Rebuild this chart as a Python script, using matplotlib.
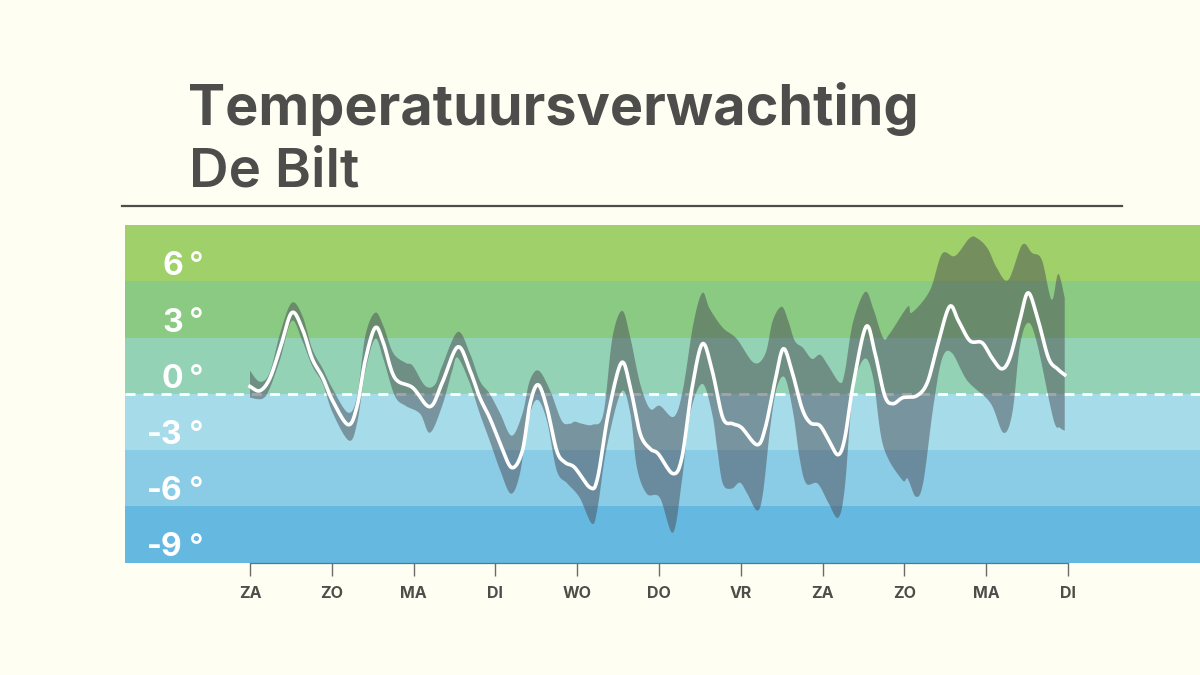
import numpy as np
import matplotlib
matplotlib.use("Agg")
import matplotlib.pyplot as plt

day_labels = ["ZA", "ZO", "MA", "DI", "WO", "DO", "VR", "ZA", "ZO", "MA", "DI"]
band_edges = [9, 6, 3, 0, -3, -6, -9]
band_colors = ["#a0d069", "#8bca82", "#94d2b6", "#a6dcea", "#8acbe6", "#65b8e0"]
temp_labels = [6, 3, 0, -3, -6, -9]

mean_days = [0,.12,.24,.37,.51,.64,.76,.89,1.01,1.20,1.31,1.41,1.53,1.63,1.77,1.99,2.20,2.35,2.54,2.69,2.81,2.93,3.06,3.20,3.33,3.42,3.52,3.63,3.75,3.85,3.97,4.16,4.25,4.38,4.54,4.65,4.77,4.89,4.99,5.17,5.28,5.40,5.53,5.65,5.78,5.90,6.01,6.20,6.30,6.42,6.52,6.63,6.75,6.85,6.97,7.09,7.19,7.27,7.37,7.53,7.64,7.76,7.86,7.98,8.15,8.28,8.40,8.55,8.66,8.80,8.95,9.07,9.19,9.29,9.41,9.51,9.62,9.76,9.87,9.96]
mean_vals = [.39,.16,.80,2.45,4.32,3.46,1.87,.85,-.37,-1.65,-.64,1.8,3.52,2.72,.85,.32,-.69,.59,2.50,1.23,-.21,-1.28,-2.66,-3.94,-3.04,-.6,.48,-.75,-3.04,-3.66,-3.94,-5.01,-4.48,-1.07,1.65,.32,-2.13,-2.93,-3.20,-4.26,-3.41,.2,2.66,1.23,-1.28,-1.60,-1.81,-2.72,-1.81,.7,2.40,1.12,-.80,-1.55,-1.71,-2.61,-3.25,-2.40,.4,3.57,2.18,-.11,-.53,-.21,-.11,.59,2.5,4.64,3.90,2.83,2.72,1.92,1.33,1.92,3.9,5.38,4.16,1.92,1.33,1.01]

upper_days = [0,.12,.24,.37,.51,.64,.76,.89,1.01,1.20,1.31,1.41,1.53,1.63,1.75,1.90,1.99,2.14,2.26,2.35,2.54,2.69,2.81,2.93,3.06,3.20,3.33,3.42,3.53,3.67,3.81,3.91,3.97,4.06,4.19,4.32,4.43,4.55,4.65,4.77,4.89,5.01,5.18,5.29,5.42,5.53,5.62,5.78,5.95,6.16,6.30,6.39,6.50,6.58,6.66,6.76,6.87,6.97,7.07,7.21,7.27,7.37,7.52,7.62,7.74,7.82,8.04,8.09,8.31,8.46,8.62,8.80,8.90,9.02,9.13,9.27,9.44,9.56,9.68,9.80,9.88,9.96]
upper_vals = [1.23,.64,1.12,3.25,4.85,4.16,2.40,1.33,.27,-1.01,-.11,3.09,4.32,3.62,2.18,1.65,1.49,.43,.48,1.49,3.30,2.13,.69,0,-1.07,-2.24,-1.07,.69,1.23,.16,-1.44,-1.60,-1.49,-1.60,-1.65,-1.07,2.98,4.42,2.98,.53,-.80,-.64,-1.23,.16,3.73,5.38,4.53,3.52,2.93,1.65,2.13,3.89,4.64,3.89,2.82,2.45,1.86,2.08,1.49,.59,1.12,3.78,5.43,4.53,2.98,3.20,4.64,4.32,5.49,7.46,7.35,8.31,8.26,7.73,6.71,6.07,7.94,7.51,7.14,5.01,6.39,5.11]

lower_days = [0,.15,.24,.37,.51,.64,.76,.89,1.01,1.21,1.31,1.41,1.53,1.63,1.77,1.90,2.08,2.20,2.35,2.47,2.54,2.69,2.81,2.93,3.06,3.19,3.30,3.40,3.51,3.63,3.75,3.88,4.03,4.18,4.25,4.36,4.54,4.65,4.73,4.85,5.01,5.17,5.28,5.38,5.53,5.65,5.71,5.78,5.89,5.99,6.08,6.20,6.27,6.36,6.44,6.54,6.64,6.72,6.80,6.94,7.07,7.19,7.27,7.37,7.51,7.62,7.74,7.97,8.04,8.14,8.23,8.35,8.46,8.58,8.77,9.05,9.21,9.32,9.41,9.51,9.62,9.82,9.90,9.96]
lower_vals = [-.21,-.27,.27,1.86,3.89,2.82,1.49,.53,-1.01,-2.50,-1.55,1.2,2.93,1.86,-.11,-.64,-1.07,-2.08,-.64,1.2,1.92,.53,-1.07,-2.50,-4.10,-5.33,-4.26,-1.44,-.32,-1.44,-4.10,-4.79,-5.54,-6.93,-6.07,-2.88,.11,-1.07,-3.94,-5.33,-5.54,-7.41,-4.64,-1.07,.53,-1.07,-2.88,-4.79,-5.06,-4.74,-5.33,-6.23,-5.33,-1.81,.32,.85,-1.01,-3.46,-4.79,-4.79,-5.81,-6.61,-5.06,.05,1.86,.80,-2.77,-4.58,-4.53,-5.49,-4.74,-.80,1.86,2.18,.69,-.48,-2.08,-1.01,2.5,3.78,2.72,-1.33,-1.81,-1.97]


def smooth(xs, ys, n=12):
    """Catmull-Rom curve through the read points: only rounds the drawn corners."""
    p = np.column_stack([xs, ys]).astype(float)
    p = np.vstack([p[0], p, p[-1]])
    t = np.linspace(0, 1, n, endpoint=False)[:, None]
    out = []
    for i in range(1, len(p) - 2):
        a, b, c, d = p[i - 1], p[i], p[i + 1], p[i + 2]
        out.append(0.5 * (2 * b + (c - a) * t + (2 * a - 5 * b + 4 * c - d) * t**2
                          + (3 * b - a - 3 * c + d) * t**3))
    out.append(p[-2][None, :])
    out = np.vstack(out)
    return out[:, 0], out[:, 1]


W, H = 1200, 675
BG = "#fefff2"
INK = "#4d4d4b"
plt.rcParams["font.family"] = ["Inter", "DejaVu Sans"]
fig = plt.figure(figsize=(W/100, H/100), dpi=100, facecolor=BG)
ax = fig.add_axes([125/W, 1-562.5/H, (W-125)/W, 337.5/H], facecolor="none")
ax.set_xlim(-125/81.8, 950/81.8)
ax.set_ylim(-9, 9)

for top, bot, col in zip(band_edges[:-1], band_edges[1:], band_colors):
    ax.axhspan(bot, top, color=col, lw=0, zorder=1)
ax.axhline(0, color="white", lw=2, dashes=(3.6, 2.9), zorder=3)

ux, uy = smooth(upper_days, upper_vals)
lx, ly = smooth(lower_days, lower_vals)
ax.fill(np.r_[ux, lx[::-1]], np.r_[uy, ly[::-1]], color="#4b4d55", alpha=0.5, lw=0, zorder=4)
mx, my = smooth(mean_days, mean_vals)
ax.plot(mx, my, color="white", lw=2.6, solid_joinstyle="round", zorder=5)

for t in temp_labels:
    ax.text(-0.82, t + 0.32, f"{t}", ha="right", va="baseline", color="white",
            fontsize=23, fontweight="bold", zorder=6)
    ax.text(-0.74, t + 0.32, "°", ha="left", va="baseline", color="white",
            fontsize=23, fontweight="medium", zorder=6)

for name, s in ax.spines.items():
    s.set_visible(name == "bottom")
ax.spines["bottom"].set_bounds(0, 10)
ax.spines["bottom"].set_color("#3f7f9f")
ax.spines["bottom"].set_linewidth(0.9)
ax.set_yticks([])
ax.set_xticks(range(len(day_labels)))
ax.set_xticklabels(day_labels, fontsize=11.5, fontweight="bold", color=INK)
ax.tick_params(axis="x", length=9.4, width=1, color="#6b6b69", pad=7.2)

fig.text(188/W, 1-125/H, "Temperatuursverwachting", fontsize=40.1, fontweight="bold",
         color=INK, va="baseline", ha="left")
fig.text(189/W, 1-187/H, "De Bilt", fontsize=39.5, fontweight="semibold",
         color=INK, va="baseline", ha="left")
fig.add_artist(plt.Line2D([122/W, 1122/W], [1-206/H, 1-206/H], color=INK, lw=1.6))

fig.savefig("out.png", dpi=100, facecolor=BG)
